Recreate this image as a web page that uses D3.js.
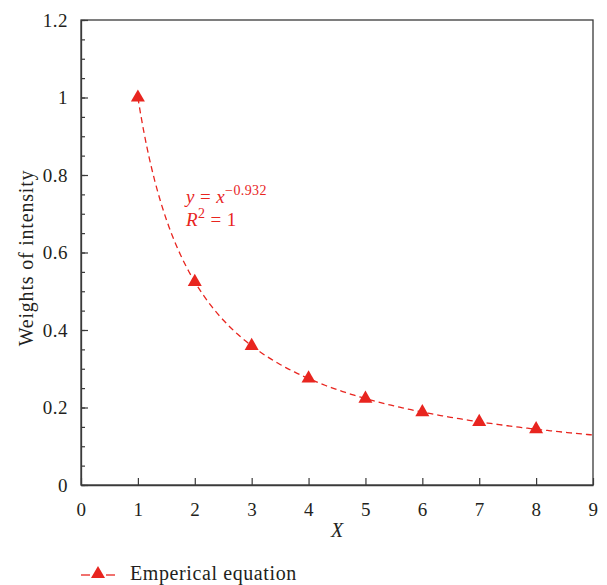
<!DOCTYPE html>
<html>
<head>
<meta charset="utf-8">
<script src="https://cdn.jsdelivr.net/npm/d3@7"></script>
<style>
  html, body { margin: 0; padding: 0; background: #fff; }
  svg text { font-family: "Liberation Serif", "DejaVu Serif", serif; fill: #231f20; }
</style>
</head>
<body>
<svg id="chart" width="607" height="585"></svg>
<script>
// Observed weights of intensity at each X
const xValues = [1, 2, 3, 4, 5, 6, 7, 8];
const weights = [1.0, 0.524, 0.359, 0.275, 0.223, 0.188, 0.163, 0.144];

// Fitted power law y = x^exponent
const fitExponent = -0.932;
const fitDomain = [1, 9];

const xTicks = [0, 1, 2, 3, 4, 5, 6, 7, 8, 9];
const yTicks = [0, 0.2, 0.4, 0.6, 0.8, 1, 1.2];
const yMinorTicks = d3.range(0, 1.2001, 0.05);

const red = "#e8251f";
const ink = "#3a3a3a";
const serif = "Liberation Serif, DejaVu Serif, serif";

const svg = d3.select("#chart");
const m = { left: 81, right: 593, top: 20, bottom: 485 };

const x = d3.scaleLinear().domain([0, 9]).range([m.left, m.right]);
const y = d3.scaleLinear().domain([0, 1.2]).range([m.bottom, m.top]);

// Frame
svg.append("rect")
  .attr("x", m.left).attr("y", m.top)
  .attr("width", m.right - m.left).attr("height", m.bottom - m.top)
  .attr("fill", "none").attr("stroke", ink).attr("stroke-width", 1.3);

// Bottom axis, ticks pointing into the plot
const xAxis = svg.append("g")
  .attr("transform", `translate(0,${m.bottom})`)
  .call(d3.axisBottom(x).tickValues(xTicks).tickFormat(d3.format("d"))
    .tickSizeInner(-7).tickSizeOuter(0).tickPadding(18));
xAxis.select(".domain").attr("stroke", ink).attr("stroke-width", 1.3);
xAxis.selectAll(".tick line").attr("stroke", ink).attr("stroke-width", 1.2);
xAxis.selectAll("text").attr("font-size", 19).attr("fill", "#231f20")
  .attr("letter-spacing", 0.5).attr("font-family", serif);

// Left axis, minor ticks every 0.05
const yMinor = svg.append("g")
  .attr("transform", `translate(${m.left},0)`)
  .call(d3.axisLeft(y).tickValues(yMinorTicks).tickFormat("").tickSizeInner(-4).tickSizeOuter(0));
yMinor.select(".domain").remove();
yMinor.selectAll(".tick line").attr("stroke", ink).attr("stroke-width", 1.2);

const yAxis = svg.append("g")
  .attr("transform", `translate(${m.left},0)`)
  .call(d3.axisLeft(y).tickValues(yTicks).tickFormat(d => d3.format("")(+d.toFixed(1)))
    .tickSizeInner(-7).tickSizeOuter(0).tickPadding(13));
yAxis.select(".domain").attr("stroke", ink).attr("stroke-width", 1.3);
yAxis.selectAll(".tick line").attr("stroke", ink).attr("stroke-width", 1.2);
yAxis.selectAll("text").attr("font-size", 19).attr("fill", "#231f20")
  .attr("letter-spacing", 0.5).attr("font-family", serif);

// Axis titles
svg.append("text")
  .attr("x", (m.left + m.right) / 2).attr("y", 537)
  .attr("text-anchor", "middle").attr("font-size", 20).attr("font-style", "italic")
  .text("X");

svg.append("text")
  .attr("transform", "translate(33,258) rotate(-90)")
  .attr("text-anchor", "middle").attr("font-size", 20).attr("letter-spacing", 0.8)
  .text("Weights of intensity");

// Fitted curve
const fitX = d3.range(fitDomain[0], fitDomain[1] + 0.0001, 0.05);
const line = d3.line().x(d => x(d)).y(d => y(Math.pow(d, fitExponent)));
svg.append("path")
  .datum(fitX)
  .attr("d", line)
  .attr("fill", "none").attr("stroke", red).attr("stroke-width", 1.3)
  .attr("stroke-dasharray", "6,4");

// Markers
const tri = d3.symbol().type(d3.symbolTriangle).size(85);
svg.append("g").selectAll("path")
  .data(xValues.map((v, i) => [v, weights[i]]))
  .join("path")
  .attr("transform", d => `translate(${x(d[0])},${y(d[1])})`)
  .attr("d", tri)
  .attr("fill", red);

// Equation annotation
const eq = svg.append("text")
  .attr("x", 186).attr("y", 203).attr("font-size", 19).attr("letter-spacing", 0.4)
  .style("fill", red);
eq.append("tspan").attr("font-style", "italic").text("y");
eq.append("tspan").text(" = ");
eq.append("tspan").attr("font-style", "italic").text("x");
eq.append("tspan").attr("font-size", 14).attr("dy", -8).text("\u22120.932");

const r2 = svg.append("text")
  .attr("x", 186).attr("y", 226).attr("font-size", 19).attr("letter-spacing", 0.4)
  .style("fill", red);
r2.append("tspan").attr("font-style", "italic").text("R");
r2.append("tspan").attr("font-size", 14).attr("dy", -8).text("2");
r2.append("tspan").attr("dy", 8).text(" = 1");

// Legend: short dash, triangle, short dash, label
const lg = svg.append("g");
[[81, 90], [106, 115]].forEach(([a, b]) => {
  lg.append("line")
    .attr("x1", a).attr("x2", b).attr("y1", 575).attr("y2", 575)
    .attr("stroke", red).attr("stroke-width", 1.3);
});
lg.append("path")
  .attr("transform", "translate(98,574)")
  .attr("d", tri).attr("fill", red);
lg.append("text")
  .attr("x", 130).attr("y", 580).attr("font-size", 20).attr("letter-spacing", 0.6)
  .text("Emperical equation");
</script>
</body>
</html>
